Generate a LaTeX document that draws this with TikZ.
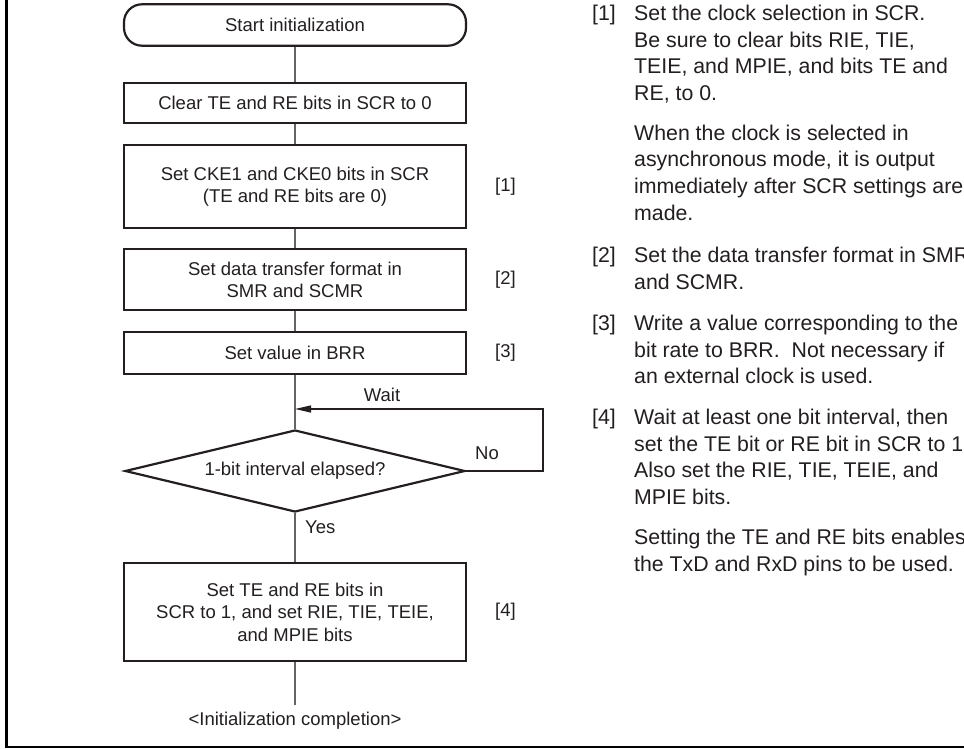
\documentclass[tikz,border=0pt]{standalone}
\usepackage{fontspec}
\setmainfont{Liberation Sans}
\usetikzlibrary{shapes.geometric,arrows.meta}
\definecolor{ink}{RGB}{35,31,32}
\definecolor{conn}{RGB}{100,100,100}
\newcommand{\flowfont}{\fontsize{18.5pt}{22.5pt}\selectfont}
\newcommand{\notefont}{\fontsize{21.3pt}{26.5pt}\selectfont}
\begin{document}
\begin{tikzpicture}[x=1pt,y=-1pt,
  every node/.style={text=ink, font=\flowfont},
  proc/.style={draw=ink, line width=2.2pt, minimum width=342pt, inner sep=0pt, align=center},
  decis/.style={draw=ink, line width=2.2pt, diamond, shape aspect=4.15, inner sep=0pt,
                minimum width=340pt, minimum height=82pt},
  link/.style={draw=conn, line width=1.8pt},
  loopline/.style={draw=ink, line width=1.2pt, -{Triangle[length=16pt,width=7pt]}},
  note/.style={anchor=base west, inner sep=0pt, font=\notefont},
  tag/.style={anchor=west, inner sep=0pt},
  frame/.style={draw=black, line width=2.6pt}]
\useasboundingbox (0,0) rectangle (964,749);
\fill[white] (0,0) rectangle (964,749);

% frame (left and bottom edges)
\draw[frame] (6.5,-5) -- (6.5,747) -- (970,747);

% flowchart nodes
\node[proc, rounded corners=18pt, minimum height=41.4pt] (start) at (295,25) {Start initialization};
\node[proc, minimum height=40pt] (clear) at (295,102.7) {Clear TE and RE bits in SCR to 0};
\node[proc, minimum height=83pt] (cke) at (295,186.5) {Set CKE1 and CKE0 bits in SCR\\(TE and RE bits are 0)};
\node[proc, minimum height=61pt] (data) at (295,279.7) {Set data transfer format in\\SMR and SCMR};
\node[proc, minimum height=42pt] (brr) at (295,353) {Set value in BRR};
\node[decis] (dec) at (295,471) {1-bit interval elapsed?};
\node[proc, minimum height=98pt] (fin) at (295,612) {Set TE and RE bits in\\SCR to 1, and set RIE, TIE, TEIE,\\and MPIE bits};
\coordinate (endp) at (295,705);
\node (endt) at (295,721) {\textless Initialization completion\textgreater};
\coordinate (w) at (295,409);
\coordinate (loopr) at (543,471);

% connectors
\draw[link] (start.south) -- (clear.north);
\draw[link] (clear.south) -- (cke.north);
\draw[link] (cke.south) -- (data.north);
\draw[link] (data.south) -- (brr.north);
\draw[link] (brr.south) -- (dec.north);
\draw[link] (dec.south) -- (fin.north);
\draw[link] (fin.south) -- (endp);
\draw[loopline] (dec.east) -- (loopr) |- (w);

% connector labels
\node (wait) at (382,395) {Wait};
\node (no) at (487,453) {No};
\node[anchor=west, inner sep=0pt] (yes) at (305,527) {Yes};

% step tags
\node[tag] (t1) at (495,186.5) {[1]};
\node[tag] (t2) at (495,280) {[2]};
\node[tag] (t3) at (495,353) {[3]};
\node[tag] (t4) at (495,612) {[4]};

% notes
\node[note] (k1) at (592,21) {[1]};
\node[note] (r1) at (634,21) {Set the clock selection in SCR.};
\node[note] (r2) at (634,47.5) {Be sure to clear bits RIE, TIE,};
\node[note] (r3) at (634,74) {TEIE, and MPIE, and bits TE and};
\node[note] (r4) at (634,100.5) {RE, to 0.};
\node[note] (r5) at (634,140.5) {When the clock is selected in};
\node[note] (r6) at (634,167) {asynchronous mode, it is output};
\node[note] (r7) at (634,193.5) {immediately after SCR settings are};
\node[note] (r8) at (634,220) {made.};
\node[note] (k2) at (592,262.5) {[2]};
\node[note] (r9) at (634,262.5) {Set the data transfer format in SMR};
\node[note] (r10) at (634,289) {and SCMR.};
\node[note] (k3) at (592,330.5) {[3]};
\node[note] (r11) at (634,330.5) {Write a value corresponding to the};
\node[note] (r12) at (634,357) {bit rate to BRR.\ \ Not necessary if};
\node[note] (r13) at (634,383.5) {an external clock is used.};
\node[note] (k4) at (592,424.5) {[4]};
\node[note] (r14) at (634,424.5) {Wait at least one bit interval, then};
\node[note] (r15) at (634,451) {set the TE bit or RE bit in SCR to 1.};
\node[note] (r16) at (634,477.5) {Also set the RIE, TIE, TEIE, and};
\node[note] (r17) at (634,504) {MPIE bits.};
\node[note] (r18) at (634,544.5) {Setting the TE and RE bits enables};
\node[note] (r19) at (634,571) {the TxD and RxD pins to be used.};
\end{tikzpicture}
\end{document}
